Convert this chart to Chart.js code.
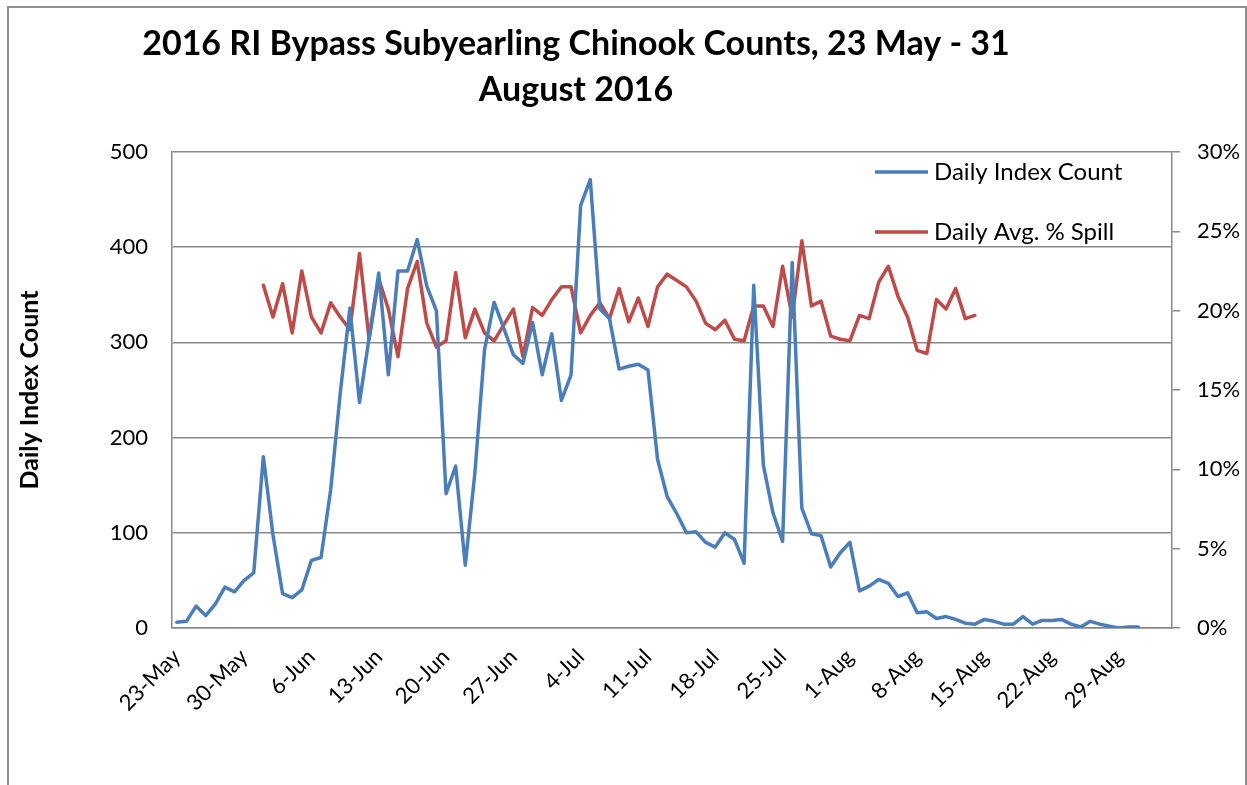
<!DOCTYPE html>
<html>
<head>
<meta charset="utf-8">
<script src="https://cdn.jsdelivr.net/npm/chart.js@4.4.1/dist/chart.umd.min.js"></script>
<style>
  html, body { margin: 0; padding: 0; background: #fff; overflow: hidden; width: 1247px; height: 785px; }
  #frame { position: absolute; left: 7px; top: 6px; width: 1240px; height: 820px; border: 2px solid #8f8f8f; box-sizing: border-box; }
  #c { position: absolute; left: -95px; top: 0; }
</style>
</head>
<body>
<div id="frame"></div>
<canvas id="c" width="1342" height="785"></canvas>
<script>
const dates = [
  '23-May','24-May','25-May','26-May','27-May','28-May','29-May','30-May','31-May',
  '1-Jun','2-Jun','3-Jun','4-Jun','5-Jun','6-Jun','7-Jun','8-Jun','9-Jun','10-Jun',
  '11-Jun','12-Jun','13-Jun','14-Jun','15-Jun','16-Jun','17-Jun','18-Jun','19-Jun','20-Jun',
  '21-Jun','22-Jun','23-Jun','24-Jun','25-Jun','26-Jun','27-Jun','28-Jun','29-Jun','30-Jun',
  '1-Jul','2-Jul','3-Jul','4-Jul','5-Jul','6-Jul','7-Jul','8-Jul','9-Jul','10-Jul',
  '11-Jul','12-Jul','13-Jul','14-Jul','15-Jul','16-Jul','17-Jul','18-Jul','19-Jul','20-Jul',
  '21-Jul','22-Jul','23-Jul','24-Jul','25-Jul','26-Jul','27-Jul','28-Jul','29-Jul','30-Jul','31-Jul',
  '1-Aug','2-Aug','3-Aug','4-Aug','5-Aug','6-Aug','7-Aug','8-Aug','9-Aug','10-Aug',
  '11-Aug','12-Aug','13-Aug','14-Aug','15-Aug','16-Aug','17-Aug','18-Aug','19-Aug','20-Aug',
  '21-Aug','22-Aug','23-Aug','24-Aug','25-Aug','26-Aug','27-Aug','28-Aug','29-Aug','30-Aug','31-Aug',
  '1-Sep','2-Sep','3-Sep'
];

const xTickLabels = ['23-May','30-May','6-Jun','13-Jun','20-Jun','27-Jun','4-Jul','11-Jul',
  '18-Jul','25-Jul','1-Aug','8-Aug','15-Aug','22-Aug','29-Aug'];

const dailyIndexCount = [
  6, 7, 23, 13, 25, 43, 38, 50, 58,
  180, 98, 36, 32, 40, 71, 74, 145, 247, 336,
  237, 305, 373, 266, 375, 375, 408, 359, 333, 141,
  170, 66, 163, 292, 342, 315, 287, 278, 321, 266,
  309, 239, 266, 444, 471, 335, 325, 272, 275, 277,
  271, 177, 138, 120, 100, 101, 90, 85, 100, 93,
  68, 360, 171, 121, 91, 384, 126, 99, 97, 64, 79,
  90, 39, 44, 51, 47, 33, 37, 16, 17, 10,
  12, 9, 5, 4, 9, 7, 4, 4, 12, 4,
  8, 8, 9, 4, 1, 7, 4, 2, 0, 1, 1,
  null, null, null
];

const dailyAvgSpill = [
  null, null, null, null, null, null, null, null, null,
  21.6, 19.6, 21.7, 18.6, 22.5, 19.6, 18.6, 20.5, 19.6, 18.8,
  23.6, 18.2, 22.0, 20.1, 17.1, 21.4, 23.1, 19.2, 17.7, 18.1,
  22.4, 18.3, 20.1, 18.6, 18.1, 19.1, 20.1, 17.1, 20.2, 19.7,
  20.7, 21.5, 21.5, 18.6, 19.7, 20.5, 19.5, 21.4, 19.3, 20.8,
  19.0, 21.5, 22.3, 21.9, 21.5, 20.6, 19.2, 18.8, 19.4, 18.2,
  18.1, 20.3, 20.3, 19.0, 22.8, 19.6, 24.4, 20.3, 20.6, 18.4, 18.2,
  18.1, 19.7, 19.5, 21.8, 22.8, 20.9, 19.6, 17.5, 17.3, 20.7,
  20.1, 21.4, 19.5, 19.7, null, null, null, null, null, null,
  null, null, null, null, null, null, null, null, null, null, null,
  null, null, null
];

const leftTicks = [0, 100, 200, 300, 400, 500];
const rightTicks = [0, 5, 10, 15, 20, 25, 30];

const GRID = '#898989';
const FONT = 'Lato';

const insideLegend = {
  id: 'insideLegend',
  afterDraw(chart) {
    const { ctx, chartArea } = chart;
    const x0 = chartArea.right - 297;
    chart.data.datasets.forEach((ds, k) => {
      const y = chartArea.top + 20 + k * 60;
      ctx.save();
      ctx.strokeStyle = ds.borderColor;
      ctx.lineWidth = ds.borderWidth;
      ctx.lineCap = 'butt';
      ctx.beginPath();
      ctx.moveTo(x0, y);
      ctx.lineTo(x0 + 53, y);
      ctx.stroke();
      ctx.fillStyle = '#000';
      ctx.font = '24px ' + FONT;
      ctx.textBaseline = 'middle';
      ctx.textAlign = 'left';
      ctx.fillText(ds.label, x0 + 59, y);
      ctx.restore();
    });
  }
};

new Chart(document.getElementById('c'), {
  type: 'line',
  data: {
    labels: dates,
    datasets: [
      {
        label: 'Daily Index Count',
        data: dailyIndexCount,
        yAxisID: 'y',
        borderColor: '#4A7EBB',
        backgroundColor: '#4A7EBB',
        borderWidth: 3.5,
        pointRadius: 0,
        tension: 0,
        borderJoinStyle: 'round',
        borderCapStyle: 'round',
        spanGaps: false
      },
      {
        label: 'Daily Avg. % Spill',
        data: dailyAvgSpill,
        yAxisID: 'y1',
        borderColor: '#BE4B48',
        backgroundColor: '#BE4B48',
        borderWidth: 3.5,
        pointRadius: 0,
        tension: 0,
        borderJoinStyle: 'round',
        borderCapStyle: 'round',
        spanGaps: false
      }
    ]
  },
  options: {
    responsive: false,
    animation: false,
    devicePixelRatio: 1,
    layout: { padding: 0 },
    plugins: {
      legend: { display: false },
      tooltip: { enabled: false },
      title: {
        display: true,
        text: ['2016 RI Bypass Subyearling Chinook Counts, 23 May - 31', 'August 2016'],
        color: '#000',
        font: { family: FONT, size: 34, weight: 'bold', lineHeight: '46px' },
        padding: { top: 21, bottom: 39 }
      }
    },
    scales: {
      x: {
        type: 'category',
        offset: true,
        grid: { display: false, drawTicks: false },
        border: { display: true, color: GRID, width: 1.5 },
        ticks: {
          autoSkip: false,
          maxRotation: 45,
          minRotation: 45,
          padding: 16,
          color: '#000',
          font: { family: FONT, size: 22 },
          callback: function (v, i) { return xTickLabels.includes(dates[i]) ? dates[i] : ''; }
        },
        afterFit: s => { s.height = 157; }
      },
      y: {
        position: 'left',
        min: 0,
        max: 500,
        afterBuildTicks: s => { s.ticks = leftTicks.map(v => ({ value: v })); },
        ticks: { padding: 24, color: '#000', font: { family: FONT, size: 22 } },
        grid: { color: GRID, lineWidth: 1.5, drawTicks: false },
        border: { display: true, color: GRID, width: 1.5 },
        title: {
          display: true,
          text: 'Daily Index Count',
          color: '#000',
          font: { family: FONT, size: 25, weight: 'bold', lineHeight: 1.2 },
          padding: { top: 110, bottom: 0 }
        },
        afterFit: s => { s.width = 267; }
      },
      y1: {
        position: 'right',
        min: 0,
        max: 30,
        afterBuildTicks: s => { s.ticks = rightTicks.map(v => ({ value: v })); },
        ticks: { padding: 17, color: '#000', font: { family: FONT, size: 22 }, callback: v => v + '%' },
        grid: { drawOnChartArea: false, drawTicks: true, tickLength: 8, color: GRID, lineWidth: 1.5 },
        border: { display: true, color: GRID, width: 1.5 },
        afterFit: s => { s.width = 75; }
      }
    }
  },
  plugins: [insideLegend]
});
</script>
</body>
</html>
